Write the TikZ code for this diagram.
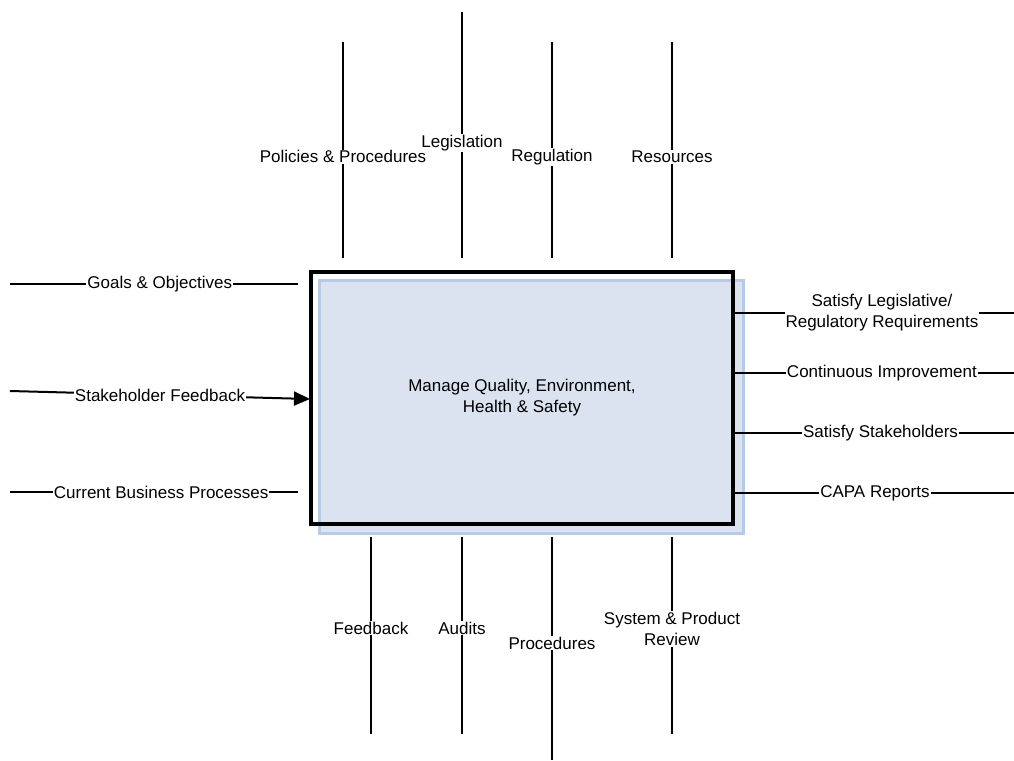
\documentclass[tikz,border=0pt]{standalone}
\usepackage{fontspec}
\setmainfont{Liberation Sans}
\usetikzlibrary{arrows.meta}
\definecolor{boxfill}{HTML}{DBE3F1}
\definecolor{boxedge}{HTML}{B7CBE6}
\begin{document}
\begin{tikzpicture}[x=1pt,y=-1pt,
  every node/.style={font=\fontsize{17}{21}\selectfont},
  conn/.style={line width=2pt,black},
  lbl/.style={fill=white,inner sep=1pt,align=center},
  arr/.style={conn,-{Triangle[length=16pt,width=14pt]}}]
\useasboundingbox (0,0) rectangle (1014,760);
% shadow / fill rectangle
\node[draw=boxedge,line width=3pt,fill=boxfill,minimum width=424pt,minimum height=253pt,inner sep=0pt] (shadow) at (531,406.5) {};
% main box
\node[draw=black,line width=4pt,minimum width=422pt,minimum height=252pt,inner sep=0pt,align=center] (box) at (522,397.5)
  {Manage Quality, Environment,\\Health \& Safety};
% top controls
\coordinate (t1a) at (343,42);  \coordinate (t1b) at (343,258);
\coordinate (t2a) at (462,12);  \coordinate (t2b) at (462,258);
\coordinate (t3a) at (552,42);  \coordinate (t3b) at (552,258);
\coordinate (t4a) at (672,42);  \coordinate (t4b) at (672,258);
\draw[conn] (t1a) -- node[lbl,pos=0.532] (lp) {Policies \& Procedures} (t1b);
\draw[conn] (t2a) -- node[lbl,pos=0.533] (ll) {Legislation} (t2b);
\draw[conn] (t3a) -- node[lbl,pos=0.532] (lr) {Regulation} (t3b);
\draw[conn] (t4a) -- node[lbl,pos=0.532] (lres) {Resources} (t4b);
% bottom mechanisms
\coordinate (b1a) at (371,537); \coordinate (b1b) at (371,734);
\coordinate (b2a) at (462,537); \coordinate (b2b) at (462,734);
\coordinate (b3a) at (552,537); \coordinate (b3b) at (552,760);
\coordinate (b4a) at (672,537); \coordinate (b4b) at (672,734);
\draw[conn] (b1a) -- node[lbl,pos=0.462] (lf) {Feedback} (b1b);
\draw[conn] (b2a) -- node[lbl,pos=0.462] (la) {Audits} (b2b);
\draw[conn] (b3a) -- node[lbl,pos=0.475] (lpr) {Procedures} (b3b);
\draw[conn] (b4a) -- node[lbl,pos=0.467] (ls) {System \& Product\\Review} (b4b);
% left inputs
\coordinate (l1a) at (10,284);  \coordinate (l1b) at (298,284);
\coordinate (l2a) at (10,391);  \coordinate (l2b) at (310,399);
\coordinate (l3a) at (10,492);  \coordinate (l3b) at (298,492);
\draw[conn] (l1a) -- node[lbl,pos=0.52] (lg) {Goals \& Objectives} (l1b);
\draw[arr] (l2a) -- node[lbl,pos=0.50] (lsf) {Stakeholder Feedback} (l2b);
\draw[conn] (l3a) -- node[lbl,pos=0.525] (lc) {Current Business Processes} (l3b);
% right outputs
\coordinate (r1a) at (733,313); \coordinate (r1b) at (1014,313);
\coordinate (r2a) at (733,373); \coordinate (r2b) at (1014,373);
\coordinate (r3a) at (733,433); \coordinate (r3b) at (1014,433);
\coordinate (r4a) at (733,493); \coordinate (r4b) at (1014,493);
\draw[conn] (r1a) -- node[lbl,pos=0.53] (ro1) {Satisfy Legislative/\\Regulatory Requirements} (r1b);
\draw[conn] (r2a) -- node[lbl,pos=0.53] (ro2) {Continuous Improvement} (r2b);
\draw[conn] (r3a) -- node[lbl,pos=0.525] (ro3) {Satisfy Stakeholders} (r3b);
\draw[conn] (r4a) -- node[lbl,pos=0.505] (ro4) {CAPA Reports} (r4b);
\end{tikzpicture}
\end{document}
